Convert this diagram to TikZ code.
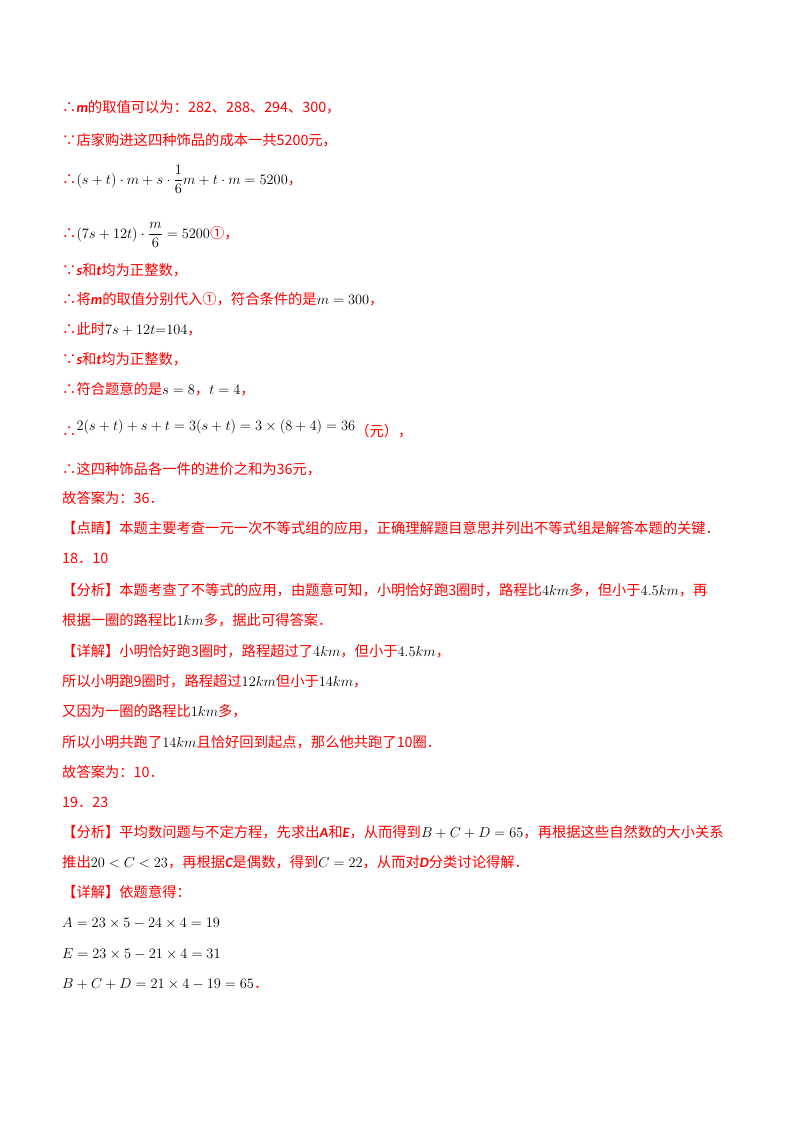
\documentclass[tikz,border=0pt]{standalone}
\usepackage{amsmath}
\usepackage{fontspec}
\setmainfont{Noto Sans CJK SC}
\newfontfamily\latf{Carlito}
\definecolor{txtred}{RGB}{255,0,0}
\newcommand{\mth}[1]{{\color{black}$#1$}}
\newcommand{\vv}[1]{{\latf\bfseries\itshape #1}}
\begin{document}
\begin{tikzpicture}[x=1pt,y=-1pt,
  ln/.style={anchor=base west,inner sep=0,text=txtred,font=\fontsize{14.3}{16}\selectfont}]
\useasboundingbox (0,0) rectangle (800,1132);
\fill[white] (0,0) rectangle (800,1132);
\node[ln] (l1) at (62,112) {∴\vv{m}的取值可以为：282、288、294、300，};
\node[ln] (l2) at (62,145) {∵店家购进这四种饰品的成本一共5200元，};
\node[ln] (l3) at (62,184) {∴\mth{(s+t)\cdot m+s\cdot\dfrac{1}{6}m+t\cdot m=5200}，};
\node[ln] (l4) at (62,238) {∴\mth{(7s+12t)\cdot\dfrac{m}{6}=5200}①，};
\node[ln] (l5) at (62,275) {∵\vv{s}和\vv{t}均为正整数，};
\node[ln] (l6) at (62,304) {∴将\vv{m}的取值分别代入①，符合条件的是\mth{m=300}，};
\node[ln] (l7) at (62,334) {∴此时\mth{7s+12t{=}104}，};
\node[ln] (l8) at (62,364) {∵\vv{s}和\vv{t}均为正整数，};
\node[ln] (l9) at (62,394) {∴符合题意的是\mth{s=8}，\mth{t=4}，};
\node[ln] (l10) at (62,436) {∴\raisebox{6pt}{\mth{2(s+t)+s+t=3(s+t)=3\times(8+4)=36}}（元），};
\node[ln] (l11) at (62,474) {∴这四种饰品各一件的进价之和为36元，};
\node[ln] (l12) at (62,503) {故答案为：36．};
\node[ln] (l13) at (62,533) {【点睛】本题主要考查一元一次不等式组的应用，正确理解题目意思并列出不等式组是解答本题的关键．};
\node[ln] (l14) at (62,563) {18．10};
\node[ln] (l15) at (62,595) {【分析】本题考查了不等式的应用，由题意可知，小明恰好跑3圈时，路程比\mth{4km}多，但小于\mth{4.5km}，再};
\node[ln] (l16) at (62,625) {根据一圈的路程比\mth{1km}多，据此可得答案．};
\node[ln] (l17) at (62,656) {【详解】小明恰好跑3圈时，路程超过了\mth{4km}，但小于\mth{4.5km}，};
\node[ln] (l18) at (62,686) {所以小明跑9圈时，路程超过\mth{12km}但小于\mth{14km}，};
\node[ln] (l19) at (62,716) {又因为一圈的路程比\mth{1km}多，};
\node[ln] (l20) at (62,747) {所以小明共跑了\mth{14km}且恰好回到起点，那么他共跑了10圈．};
\node[ln] (l21) at (62,777) {故答案为：10．};
\node[ln] (l22) at (62,807) {19．23};
\node[ln] (l23) at (62,837) {【分析】平均数问题与不定方程，先求出\vv{A}和\vv{E}，从而得到\mth{B+C+D=65}，再根据这些自然数的大小关系};
\node[ln] (l24) at (62,867) {推出\mth{20<C<23}，再根据\vv{C}是偶数，得到\mth{C=22}，从而对\vv{D}分类讨论得解．};
\node[ln] (l25) at (62,897) {【详解】依题意得：};
\node[ln] (l26) at (62,927) {\mth{A=23\times5-24\times4=19}};
\node[ln] (l27) at (62,958) {\mth{E=23\times5-21\times4=31}};
\node[ln] (l28) at (62,988) {\mth{B+C+D=21\times4-19=65}．};
\end{tikzpicture}
\end{document}
